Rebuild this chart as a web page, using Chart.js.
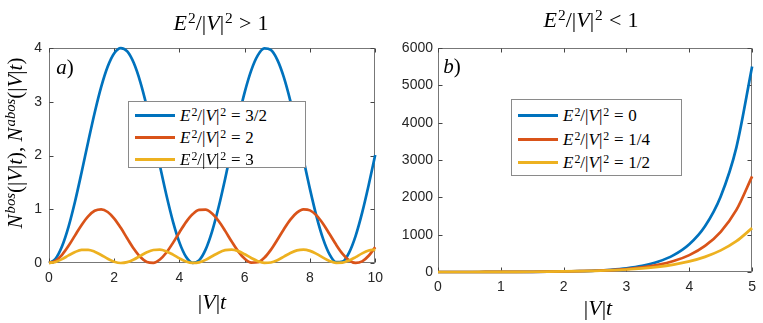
<!DOCTYPE html>
<html>
<head>
<meta charset="utf-8">
<script src="https://cdn.jsdelivr.net/npm/chart.js@4.4.0/dist/chart.umd.min.js"></script>
<style>
  html, body { margin: 0; padding: 0; background: #fff; }
  #wrap { position: relative; width: 763px; height: 323px; overflow: hidden; background: #fff; }
  canvas { position: absolute; top: 0; }
  .tx { position: absolute; font-family: "Liberation Serif", "DejaVu Serif", serif; color: #000; white-space: nowrap; line-height: 1; }
  .tx i { font-style: italic; }
  .tx sup, .ltxt sup { font-size: 0.7em; vertical-align: 0; position: relative; top: -0.45em; margin-left: 1px; }
  .rel { padding: 0 0.28em; }
  .center { transform: translate(-50%, -50%); }
  .ylab { transform: translate(-50%, -50%) rotate(-90deg); }
  .legend { position: absolute; background: #fff; border: 1px solid #8a8a8a; box-sizing: border-box; }
  .row { position: absolute; left: 0; height: 20px; }
  .swatch { position: absolute; left: 6px; width: 40px; height: 3px; }
  .ltxt { position: absolute; left: 51px; font-family: "Liberation Serif", "DejaVu Serif", serif; font-size: 17px; white-space: nowrap; line-height: 1; }
  .ltxt i { font-style: italic; }
</style>
</head>
<body>
<div id="wrap">
  <canvas id="cL" width="390" height="323" style="left:0;width:390px;height:323px"></canvas>
  <canvas id="cR" width="373" height="323" style="left:390px;width:373px;height:323px"></canvas>

  <div class="tx center" style="left:221px;top:23px;font-size:22px;"><i>E</i><sup>2</sup>/|<i>V</i>|<sup>2</sup><span class="rel">&gt;</span>1</div>
  <div class="tx center" style="left:591px;top:20px;font-size:22px;"><i>E</i><sup>2</sup>/|<i>V</i>|<sup>2</sup><span class="rel">&lt;</span>1</div>

  <div class="tx ylab" style="left:15px;top:143px;font-size:21px;"><i>N</i><sup><i>bos</i></sup>(|<i>V</i>|<i>t</i>), <i>N</i><sup><i>abos</i></sup>(|<i>V</i>|<i>t</i>)</div>

  <div class="tx center" style="left:212px;top:302px;font-size:22px;">|<i>V</i>|<i>t</i></div>
  <div class="tx center" style="left:598px;top:308px;font-size:22px;">|<i>V</i>|<i>t</i></div>

  <div class="tx center" style="left:65px;top:67px;font-size:21px;"><i>a</i>)</div>
  <div class="tx center" style="left:452px;top:66px;font-size:21px;"><i>b</i>)</div>

  <div class="legend" style="left:128px;top:101px;width:178px;height:67px;">
    <div class="row" style="top:3px;"><div class="swatch" style="top:9px;background:#0072BD"></div><div class="ltxt" style="top:2px"><i>E</i><sup>2</sup>/|<i>V</i>|<sup>2</sup><span class="rel">=</span>3/2</div></div>
    <div class="row" style="top:25px;"><div class="swatch" style="top:9px;background:#D95319"></div><div class="ltxt" style="top:2px"><i>E</i><sup>2</sup>/|<i>V</i>|<sup>2</sup><span class="rel">=</span>2</div></div>
    <div class="row" style="top:47px;"><div class="swatch" style="top:9px;background:#EDB120"></div><div class="ltxt" style="top:2px"><i>E</i><sup>2</sup>/|<i>V</i>|<sup>2</sup><span class="rel">=</span>3</div></div>
  </div>
  <div class="legend" style="left:511px;top:99px;width:171px;height:77px;">
    <div class="row" style="top:5px;"><div class="swatch" style="top:9px;background:#0072BD"></div><div class="ltxt" style="top:2px"><i>E</i><sup>2</sup>/|<i>V</i>|<sup>2</sup><span class="rel">=</span>0</div></div>
    <div class="row" style="top:29px;"><div class="swatch" style="top:9px;background:#D95319"></div><div class="ltxt" style="top:2px"><i>E</i><sup>2</sup>/|<i>V</i>|<sup>2</sup><span class="rel">=</span>1/4</div></div>
    <div class="row" style="top:52px;"><div class="swatch" style="top:9px;background:#EDB120"></div><div class="ltxt" style="top:2px"><i>E</i><sup>2</sup>/|<i>V</i>|<sup>2</sup><span class="rel">=</span>1/2</div></div>
  </div>
</div>
<script>
// ---------- Panel a) : E^2/|V|^2 > 1 ----------
const tLeft = [0,0.2,0.4,0.6,0.8,1.0,1.2,1.4,1.6,1.8,2.0,2.2,2.4,2.6,2.8,3.0,3.2,3.4,3.6,3.8,4.0,4.2,4.4,4.6,4.8,5.0,5.2,5.4,5.6,5.8,6.0,6.2,6.4,6.6,6.8,7.0,7.2,7.4,7.6,7.8,8.0,8.2,8.4,8.6,8.8,9.0,9.2,9.4,9.6,9.8,10.0];
const leftE32 = [0,0.0795,0.3116,0.6778,1.1492,1.6881,2.2518,2.7956,3.2761,3.6552,3.9027,3.9991,3.9366,3.7202,3.3671,2.9053,2.3716,1.8084,1.2604,0.7712,0.3796,0.1168,0.0037,0.0492,0.2497,0.5893,1.0410,1.5689,2.1375,2.6829,3.1804,3.5841,3.8619,3.9917,3.9633,3.7789,3.4530,3.0118,2.4901,1.9294,1.3744,0.8691,0.4537,0.1611,0.0147,0.0260,0.1942,0.5060,0.9364,1.4514,2.0099];
const leftE2 = [0,0.0395,0.1517,0.3188,0.5146,0.7081,0.8687,0.9711,0.9992,0.9484,0.8268,0.6537,0.4563,0.2658,0.1122,0.0199,0.0034,0.0653,0.1958,0.3744,0.5728,0.7597,0.9055,0.9874,0.9923,0.9195,0.7805,0.5972,0.3985,0.2159,0.0781,0.0069,0.0136,0.0971,0.2442,0.4316,0.6299,0.8077,0.9369,0.9971,0.9788,0.8850,0.7303,0.5393,0.3421,0.1698,0.0497,0.0006,0.0304,0.1343,0.2960];
const leftE3 = [0,0.0195,0.0718,0.1407,0.2048,0.2439,0.2460,0.2104,0.1482,0.0788,0.0237,0.0002,0.0156,0.0651,0.1332,0.1988,0.2414,0.2477,0.2158,0.1556,0.0859,0.0284,0.0009,0.0121,0.0585,0.1256,0.1925,0.2384,0.2488,0.2209,0.1629,0.0932,0.0333,0.0021,0.0091,0.0522,0.1181,0.1860,0.2350,0.2497,0.2255,0.1701,0.1006,0.0387,0.0037,0.0065,0.0462,0.1105,0.1793,0.2312,0.2500];
const leftXTicks = [0,2,4,6,8,10];
const leftYTicks = [0,1,2,3,4];
const leftLabels = ['E²/|V|² = 3/2','E²/|V|² = 2','E²/|V|² = 3'];

// ---------- Panel b) : E^2/|V|^2 < 1 ----------
const tRight = [0,0.25,0.5,0.75,1.0,1.25,1.5,1.75,2.0,2.25,2.5,2.75,3.0,3.25,3.5,3.75,4.0,4.25,4.5,4.75,5.0];
const rightE0 = [0,0.064,0.272,0.676,1.381,2.566,4.534,7.786,13.15,22.01,36.61,60.67,100.4,165.8,273.7,451.5,744.7,1228.2,2025.3,3339.4,5506.1];
const rightE14 = [0,0.085,0.355,0.862,1.702,3.036,5.117,8.341,13.32,21.01,32.88,51.17,79.38,122.9,189.9,293.3,452.8,698.6,1077.7,1662.1,2563.2];
const rightE12 = [0,0.126,0.521,1.235,2.356,4.028,6.462,9.965,14.98,22.14,32.34,46.89,67.61,97.12,139.1,199.0,284.3,405.7,578.6,824.8,1175.5];
const rightXTicks = [0,1,2,3,4,5];
const rightYTicks = [0,1000,2000,3000,4000,5000,6000];
const rightLabels = ['E²/|V|² = 0','E²/|V|² = 1/4','E²/|V|² = 1/2'];

const colors = ['#0072BD', '#D95319', '#EDB120'];

function pts(xs, ys) { return xs.map((x, i) => ({ x: x, y: ys[i] })); }

function makeDatasets(xs, series, labels) {
  return series.map((ys, k) => ({
    label: labels[k],
    data: pts(xs, ys),
    borderColor: colors[k],
    backgroundColor: colors[k],
    borderWidth: 2.7,
    pointRadius: 0,
    fill: false,
    cubicInterpolationMode: 'monotone',
    clip: 4,
    order: 3 - k
  }));
}

// draws MATLAB-like box with inward tick marks, via the chart's own scales
const boxPlugin = {
  id: 'matlabBox',
  beforeDatasetsDraw(chart) {
    const { ctx, chartArea: a, scales } = chart;
    const L = Math.round(a.left) + 0.5, R = Math.round(a.right) - 0.5;
    const T = Math.round(a.top) + 0.5, B = Math.round(a.bottom) - 0.5;
    ctx.save();
    ctx.strokeStyle = '#777';
    ctx.lineWidth = 1;
    ctx.strokeRect(L, T, R - L, B - T);
    ctx.strokeStyle = '#444';
    const len = 4;
    ctx.beginPath();
    scales.x.ticks.forEach(t => {
      const px = Math.round(scales.x.getPixelForValue(t.value)) + 0.5;
      ctx.moveTo(px, B); ctx.lineTo(px, B - len);
      ctx.moveTo(px, T); ctx.lineTo(px, T + len);
    });
    scales.y.ticks.forEach(t => {
      const py = Math.round(scales.y.getPixelForValue(t.value)) + 0.5;
      ctx.moveTo(L, py); ctx.lineTo(L + len, py);
      ctx.moveTo(R, py); ctx.lineTo(R - len, py);
    });
    ctx.stroke();
    ctx.restore();
  }
};

const tickFont = { family: '"Liberation Sans", Arial, Helvetica, sans-serif', size: 14 };
const tickColor = '#262626';

function makeChart(id, xs, series, labels, xTicks, yTicks, geom) {
  return new Chart(document.getElementById(id), {
    type: 'line',
    data: { datasets: makeDatasets(xs, series, labels) },
    options: {
      responsive: false,
      animation: false,
      events: [],
      layout: { padding: { top: geom.top, right: geom.right, left: 0, bottom: 0 } },
      plugins: { legend: { display: false }, tooltip: { enabled: false }, title: { display: false } },
      scales: {
        x: {
          type: 'linear',
          min: xTicks[0], max: xTicks[xTicks.length - 1],
          afterBuildTicks: s => { s.ticks = xTicks.map(v => ({ value: v })); },
          ticks: { font: tickFont, color: tickColor, padding: geom.xpad, maxRotation: 0, autoSkip: false, callback: v => String(v) },
          grid: { display: false, drawTicks: false },
          border: { display: false },
          afterFit: s => { s.height = geom.xh; }
        },
        y: {
          type: 'linear',
          min: yTicks[0], max: yTicks[yTicks.length - 1],
          afterBuildTicks: s => { s.ticks = yTicks.map(v => ({ value: v })); },
          ticks: { font: tickFont, color: tickColor, padding: geom.ypad, autoSkip: false, callback: v => String(v) },
          grid: { display: false, drawTicks: false },
          border: { display: false },
          afterFit: s => { s.width = geom.yw; }
        }
      }
    },
    plugins: [boxPlugin]
  });
}

makeChart('cL', tLeft, [leftE32, leftE2, leftE3], leftLabels, leftXTicks, leftYTicks,
  { top: 48, right: 14, xh: 60, yw: 49, xpad: 7, ypad: 7 });
makeChart('cR', tRight, [rightE0, rightE14, rightE12], rightLabels, rightXTicks, rightYTicks,
  { top: 48, right: 6, xh: 51, yw: 48, xpad: 7, ypad: 5 });
</script>
</body>
</html>
